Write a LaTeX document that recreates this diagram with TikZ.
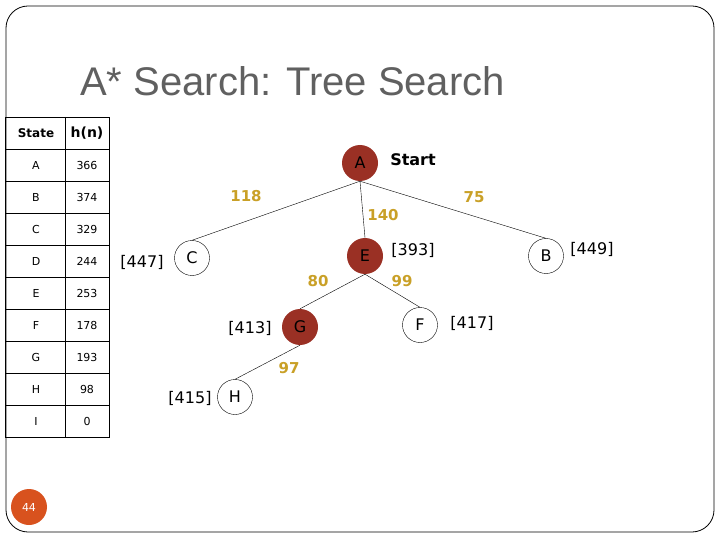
\documentclass[tikz,border=0pt]{standalone}
\usepackage{fontspec}
\setmainfont{DejaVu Sans}
\newfontfamily\titlefont{Liberation Sans}
\usepackage{tikz}
\definecolor{nodeRed}{HTML}{9A3024}
\definecolor{costGold}{HTML}{C9A027}
\definecolor{titleGray}{HTML}{606060}
\definecolor{pageOrange}{HTML}{D8521E}

\begin{document}
\begin{tikzpicture}[x=1pt, y=-1pt,
    expanded/.style={circle, fill=nodeRed, minimum size=36pt, inner sep=0pt, font=\fontsize{16}{16}\selectfont},
    frontier/.style={circle, draw, thin, fill=white, minimum size=35pt, inner sep=0pt, font=\fontsize{16}{16}\selectfont},
    fval/.style={font=\fontsize{16}{16}\selectfont},
    cost/.style={text=costGold, font=\fontsize{15}{15}\selectfont\bfseries},
    cell/.style={font=\fontsize{11}{11}\selectfont}]
    \useasboundingbox (0,0) rectangle (720,540);
    % slide frame and title
    \draw[line width=0.8pt, rounded corners=22pt] (6,6) rectangle (714,532);
    \node[anchor=base west, text=titleGray, font=\titlefont\fontsize{40}{40}\selectfont, inner sep=0pt] (title) at (80,96) {A* Search: Tree Search};
    % heuristic table
    \node[cell, font=\fontsize{12}{12}\selectfont\bfseries] (hdS) at (36,133) {State};
    \node[cell, font=\fontsize{14}{14}\selectfont\bfseries] (hdH) at (87,133) {h(n)};
    \foreach \s/\h [count=\i] in {A/366, B/374, C/329, D/244, E/253, F/178, G/193, H/98, I/0}{
        \node[cell] (s\s) at (36,{133+32*\i}) {\s};
        \node[cell] (h\s) at (87,{133+32*\i}) {\h};
    }
    \foreach \i in {1,...,9}
        \draw (5,{117+32*\i}) -- (109,{117+32*\i});
    \draw (65,117) -- (65,437);
    \draw[semithick] (5,117) rectangle (109,437);
    % search tree
    \node[expanded] (A) at (360,163) {A};
    \node[frontier] (C) at (192,258) {C};
    \node[expanded] (E) at (365,256) {E};
    \node[frontier] (B) at (546,256) {B};
    \node[expanded] (G) at (300,327) {G};
    \node[frontier] (F) at (420,325) {F};
    \node[frontier] (H) at (235,397) {H};
    \draw (A.south) -- (C.north);
    \draw (A.south) -- (E.north);
    \draw (A.south) -- (B.north);
    \draw (E.south) -- (G.north);
    \draw (E.south) -- (F.north);
    \draw (G.south) -- (H.north);
    \node[font=\fontsize{16}{16}\selectfont\bfseries] (start) at (413,160) {Start};
    \node[cost] (cAC) at (246,196) {118};
    \node[cost] (cAB) at (474,197) {75};
    \node[cost] (cAE) at (383,215) {140};
    \node[cost] (cEG) at (318,281) {80};
    \node[cost] (cEF) at (402,281) {99};
    \node[cost] (cGH) at (289,368) {97};
    \node[fval] (fC) at (142,262) {[447]};
    \node[fval] (fE) at (413,250) {[393]};
    \node[fval] (fB) at (592,249) {[449]};
    \node[fval] (fG) at (250,328) {[413]};
    \node[fval] (fF) at (472,323) {[417]};
    \node[fval] (fH) at (190,398) {[415]};
    % slide number
    \node[circle, fill=pageOrange, minimum size=36pt, inner sep=0pt, text=white, font=\fontsize{11}{11}\selectfont] (page) at (29,507) {44};
\end{tikzpicture}
\end{document}
